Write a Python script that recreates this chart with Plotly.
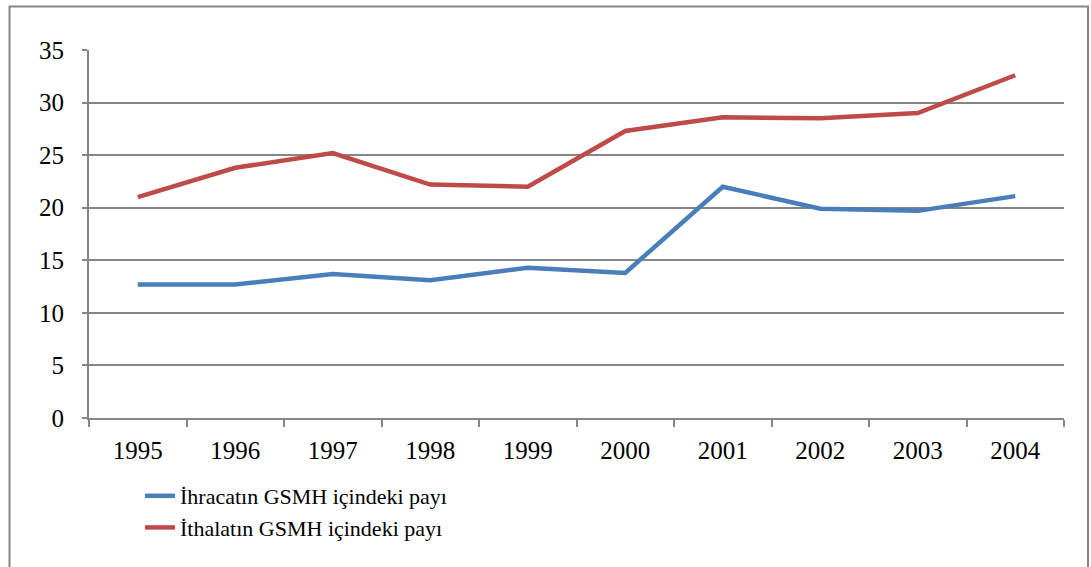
import plotly.graph_objects as go

years = ["1995", "1996", "1997", "1998", "1999", "2000", "2001", "2002", "2003", "2004"]
ihracat = [12.7, 12.7, 13.7, 13.1, 14.3, 13.8, 22.0, 19.9, 19.7, 21.1]
ithalat = [21.0, 23.8, 25.2, 22.2, 22.0, 27.3, 28.6, 28.5, 29.0, 32.6]
names = ["İhracatın GSMH içindeki payı", "İthalatın GSMH içindeki payı"]
colors = ["#4a7ebb", "#be4b48"]
y_ticks = [0, 5, 10, 15, 20, 25, 30, 35]

FONT = "Liberation Serif"
W, H = 1091, 567
L, R, T, B = 89, 27, 50, 149
pw, ph = W - L - R, H - T - B
base = H - B  # pixel y of the x axis


def px_y(y):
    return (base - y) / ph


def px_x(x):
    return (x - L) / pw


fig = go.Figure()
for name, vals, c in zip(names, [ihracat, ithalat], colors):
    fig.add_trace(go.Scatter(x=years, y=vals, name=name, mode="lines",
                             line=dict(color=c, width=4.5)))

fig.update_layout(
    width=W, height=H,
    margin=dict(l=L, r=R, t=T, b=B, autoexpand=False),
    paper_bgcolor="white", plot_bgcolor="white",
    font=dict(family=FONT, size=25, color="#000000"),
    showlegend=True,
    legend=dict(x=px_x(140), y=px_y(475), xanchor="left", yanchor="top",
                font=dict(family=FONT, size=22), bgcolor="rgba(0,0,0,0)",
                tracegroupgap=6, traceorder="normal"),
    xaxis=dict(type="category", range=[-0.5, len(years) - 0.5], automargin=False,
               showgrid=False, showline=True, linecolor="#868686",
               linewidth=2, ticks="outside", tickson="boundaries", ticklen=7,
               tickcolor="#868686", tickwidth=2, zeroline=False,
               tickfont=dict(family=FONT, size=25), ticklabelstandoff=9),
    yaxis=dict(range=[0, 35], tickvals=y_ticks, automargin=False,
               showgrid=True, gridcolor="#868686",
               gridwidth=2, showline=True, linecolor="#868686", linewidth=2,
               ticks="outside", ticklen=5, tickcolor="#868686", tickwidth=2,
               zeroline=False, tickfont=dict(family=FONT, size=25), ticklabelstandoff=13),
)

# outer chart border
fig.add_shape(type="rect", xref="paper", yref="paper",
              x0=px_x(9.5), x1=px_x(1088), y0=px_y(580), y1=px_y(6.5),
              line=dict(color="#868686", width=2), fillcolor="rgba(0,0,0,0)", layer="below")

fig.write_html("out.html", config={"displayModeBar": False},
               post_script="document.body.style.margin='0';document.body.style.overflow='hidden';")
